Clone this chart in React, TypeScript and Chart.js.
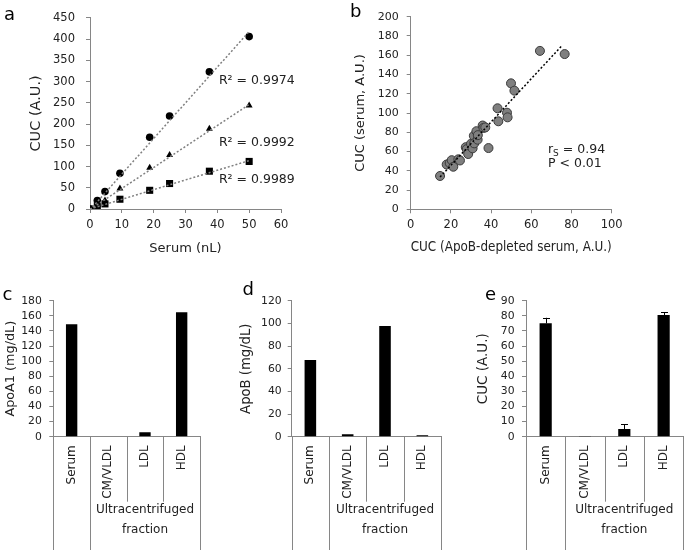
import React, { useEffect, useRef } from "react";
import { Chart, registerables } from "chart.js";
Chart.register(...registerables);

const FONT = "'DejaVu Sans', Verdana, sans-serif";
const TEXT = "#222222";
const AXIS = "#868686";

// ---------- Panel a data ----------
const serumNL = [0, 2.3, 4.7, 9.4, 18.75, 25, 37.5, 50];
const cucCircle = [0, 20, 41, 84, 169, 219, 323, 406];
const cucTriangle = [0, 10, 20, 48, 97, 127, 189, 244];
const cucSquare = [0, 7, 12, 23, 44, 60, 89, 112];
const trendX = [0, 50];
const trendCircle = [-2, 418];
const trendTriangle = [-1, 246];
const trendSquare = [0, 114];
const r2Labels = ["R² = 0.9974", "R² = 0.9992", "R² = 0.9989"];

// ---------- Panel b data ----------
const apoBDepleted = [14.6, 17.9, 19.4, 20.4, 21.2, 23.7, 24.5, 27.4, 27.9, 28.6, 30.0, 30.8, 31.4, 31.6, 32.7, 33.3, 33.4, 35.8, 36.2, 37.1, 38.7, 43.2, 43.6, 47.9, 48.2, 49.9, 51.6, 64.3, 76.6];
const serumCUC = [34.6, 46.5, 48, 51, 44.2, 51.9, 50.7, 64.5, 62.5, 57.4, 68, 63.3, 76.3, 68.5, 81.1, 72.3, 77, 87, 84.5, 85, 63.6, 104.9, 91.4, 100.3, 95.5, 130.8, 123.2, 164.5, 161.2];
const trendBX = [14.6, 75.5];
const trendBY = [33.5, 170.5];
const corrLines = ["= 0.94", "P < 0.01"];

// ---------- Panels c, d, e data ----------
const fractionLabels = ["Serum", "CM/VLDL", "LDL", "HDL"];
const groupLabelLines = ["Ultracentrifuged", "fraction"];
const apoA1 = [148.8, 0, 5.8, 164.6];
const apoB = [67.7, 2.1, 97.7, 1.2];
const cucFraction = [75.0, 0.2, 5.1, 80.5];
const cucFractionErr = [3.7, 0, 3.2, 1.8];

// ---------- plugins ----------
const letterPlugin = {
  id: "panelLetter",
  afterDraw(chart: any, _a: any, opts: any) {
    if (!opts || !opts.text) return;
    const ctx = chart.ctx;
    ctx.save();
    ctx.font = `${opts.size}px ${FONT}`;
    ctx.fillStyle = "#000";
    ctx.textAlign = "left";
    ctx.textBaseline = "alphabetic";
    ctx.fillText(opts.text, opts.x, opts.y);
    ctx.restore();
  },
};

const noteTextPlugin = {
  id: "noteText",
  afterDatasetsDraw(chart: any, _a: any, opts: any) {
    if (!opts || !opts.items) return;
    const { ctx, scales } = chart;
    ctx.save();
    ctx.fillStyle = TEXT;
    ctx.textAlign = "left";
    ctx.textBaseline = "middle";
    for (const it of opts.items) {
      const px = scales.x.getPixelForValue(it.x);
      const py = scales.y.getPixelForValue(it.y);
      ctx.font = `${opts.size}px ${FONT}`;
      if (it.sub) {
        ctx.fillText(it.pre, px, py);
        let w = ctx.measureText(it.pre).width;
        ctx.font = `${opts.size * 0.72}px ${FONT}`;
        ctx.fillText(it.sub, px + w, py + 4);
        w += ctx.measureText(it.sub).width;
        ctx.font = `${opts.size}px ${FONT}`;
        ctx.fillText(" " + it.text, px + w, py);
      } else {
        ctx.fillText(it.text, px, py);
      }
    }
    ctx.restore();
  },
};

const multiLevelPlugin = {
  id: "multiLevel",
  afterDraw(chart: any, _a: any, opts: any) {
    if (!opts || !opts.labels) return;
    const { ctx, chartArea } = chart;
    const x = chart.scales.x;
    const n = opts.labels.length;
    const catW = (chartArea.right - chartArea.left) / n;
    const y0 = chartArea.bottom;
    const bottom = chart.height;
    ctx.save();
    ctx.strokeStyle = AXIS;
    ctx.lineWidth = 1;
    for (let i = 0; i <= n; i++) {
      const bx = Math.round(chartArea.left + i * catW) + 0.5;
      const full = i === 0 || i === 1 || i === n;
      ctx.beginPath();
      ctx.moveTo(bx, y0);
      ctx.lineTo(bx, full ? bottom : y0 + opts.innerDepth);
      ctx.stroke();
    }
    ctx.fillStyle = TEXT;
    ctx.font = `${opts.size}px ${FONT}`;
    opts.labels.forEach((lab: string, i: number) => {
      const cx = x.getPixelForValue(i);
      ctx.save();
      ctx.translate(cx, y0 + 8.5);
      ctx.rotate(-Math.PI / 2);
      ctx.textAlign = "right";
      ctx.textBaseline = "middle";
      ctx.fillText(lab, 0, 0);
      ctx.restore();
    });
    const gx = (chartArea.left + catW + chartArea.right) / 2;
    ctx.textAlign = "center";
    ctx.textBaseline = "middle";
    opts.group.forEach((g: string, k: number) => {
      ctx.fillText(g, gx, y0 + 73.5 + k * 20);
    });
    ctx.restore();
  },
};

const errorBarPlugin = {
  id: "errorBars",
  afterDatasetsDraw(chart: any, _a: any, opts: any) {
    if (!opts || !opts.errors) return;
    const { ctx } = chart;
    const meta = chart.getDatasetMeta(0);
    const ys = chart.scales.y;
    ctx.save();
    ctx.strokeStyle = "#000";
    ctx.lineWidth = 1;
    meta.data.forEach((bar: any, i: number) => {
      const e = opts.errors[i];
      if (!e) return;
      const v = chart.data.datasets[0].data[i];
      const top = ys.getPixelForValue(v + e);
      const bx = Math.round(bar.x) + 0.5;
      ctx.beginPath();
      ctx.moveTo(bx, bar.y);
      ctx.lineTo(bx, top);
      ctx.moveTo(bx - 3.5, Math.round(top) + 0.5);
      ctx.lineTo(bx + 3.5, Math.round(top) + 0.5);
      ctx.stroke();
    });
    ctx.restore();
  },
};

// ---------- helpers ----------
function yAxis(opts: any) {
  return {
    min: opts.min,
    max: opts.max,
    afterFit: (s: any) => { s.width = opts.fitW; },
    grid: { drawOnChartArea: false, drawTicks: true, tickLength: 4, color: AXIS },
    border: { display: true, color: AXIS, width: 1 },
    ticks: { stepSize: opts.step, autoSkip: false, color: TEXT, padding: opts.pad, font: { family: FONT, size: opts.tickSize } },
    title: { display: true, text: opts.title, color: TEXT, font: { family: FONT, size: opts.titleSize }, padding: { top: opts.titlePad, bottom: 0 } },
  };
}

function xLinear(opts: any) {
  return {
    type: "linear",
    min: opts.min,
    max: opts.max,
    afterFit: (s: any) => { s.height = opts.fitH; },
    grid: { drawOnChartArea: false, drawTicks: true, tickLength: 4, color: AXIS },
    border: { display: true, color: AXIS, width: 1 },
    ticks: { stepSize: opts.step, autoSkip: false, color: TEXT, padding: 5, font: { family: FONT, size: opts.tickSize }, maxRotation: 0 },
    title: { display: true, text: opts.title, color: TEXT, font: { family: FONT, size: opts.titleSize }, padding: { top: 0, bottom: opts.titlePad } },
  };
}

const xy = (xs: number[], ys: number[]) => xs.map((x, i) => ({ x, y: ys[i] }));

function base(W: number, T: number, R: number) {
  return {
    responsive: false,
    animation: false,
    events: [],
    layout: { padding: { left: 0, top: T, right: W - R, bottom: 0 } },
  };
}

function configA() {
  const W = 340, H = 270, L = 90, T = 17, R = 281, B = 209;
  const marker = (style: string, r: number) => ({ showLine: false, pointStyle: style, pointRadius: r, backgroundColor: "#000", borderColor: "#000", borderWidth: 0 });
  const trend = { showLine: true, pointRadius: 0, borderColor: "#808080", borderWidth: 1.5, borderDash: [2, 2], fill: false };
  return {
    type: "scatter",
    data: {
      datasets: [
        { ...trend, data: xy(trendX, trendCircle) },
        { ...trend, data: xy(trendX, trendTriangle) },
        { ...trend, data: xy(trendX, trendSquare) },
        { ...marker("circle", 3.8), data: xy(serumNL, cucCircle) },
        { ...marker("triangle", 4), data: xy(serumNL, cucTriangle) },
        { ...marker("rect", 5), data: xy(serumNL, cucSquare) },
      ],
    },
    options: {
      ...base(W, T, R),
      scales: {
        x: xLinear({ min: 0, max: 60, step: 10, fitH: H - B, tickSize: 11.5, title: "Serum (nL)", titleSize: 13, titlePad: 14 }),
        y: yAxis({ min: 0, max: 450, step: 50, fitW: L, pad: 11, tickSize: 11.5, title: "CUC (A.U.)", titleSize: 14.5, titlePad: 28 }),
      },
      plugins: {
        legend: { display: false },
        tooltip: { enabled: false },
        panelLetter: { text: "a", x: 4, y: 20, size: 18 },
        noteText: {
          size: 12.5,
          items: [
            { text: r2Labels[0], x: 40.5, y: 302 },
            { text: r2Labels[1], x: 40.5, y: 155 },
            { text: r2Labels[2], x: 40.5, y: 68 },
          ],
        },
      },
    },
    plugins: [letterPlugin, noteTextPlugin],
  };
}

function configB() {
  const W = 345, H = 270, L = 70.7, T = 16.7, R = 271.7, B = 209.3;
  return {
    type: "scatter",
    data: {
      datasets: [
        { showLine: true, pointRadius: 0, borderColor: "#000", borderWidth: 1.5, borderDash: [2, 2], data: xy(trendBX, trendBY) },
        { showLine: false, pointStyle: "circle", pointRadius: 4.5, backgroundColor: "#7f7f7f", borderColor: "#3a3a3a", borderWidth: 1, data: xy(apoBDepleted, serumCUC) },
      ],
    },
    options: {
      ...base(W, T, R),
      scales: {
        x: xLinear({ min: 0, max: 100, step: 20, fitH: H - B, tickSize: 11.5, title: "CUC (ApoB-depleted serum, A.U.)", titleSize: 14.3, titlePad: 14 }),
        y: yAxis({ min: 0, max: 200, step: 20, fitW: L, pad: 8, tickSize: 11, title: "CUC (serum, A.U.)", titleSize: 13, titlePad: 13 }),
      },
      plugins: {
        legend: { display: false },
        tooltip: { enabled: false },
        panelLetter: { text: "b", x: 10, y: 16.7, size: 18 },
        noteText: {
          size: 12.5,
          items: [
            { pre: "r", sub: "S", text: corrLines[0], x: 68.3, y: 61.6 },
            { text: corrLines[1], x: 68.3, y: 47 },
          ],
        },
      },
    },
    plugins: [letterPlugin, noteTextPlugin],
  };
}

function configBar(p: any) {
  const W = 230, H = 270, T = 20.7, B = 156.7;
  return {
    type: "bar",
    data: {
      labels: fractionLabels,
      datasets: [{ data: p.values, backgroundColor: "#000", borderWidth: 0, barPercentage: 0.31, categoryPercentage: 1 }],
    },
    options: {
      ...base(W, T, p.R),
      scales: {
        x: {
          type: "category",
          afterFit: (s: any) => { s.height = H - B; },
          grid: { display: false },
          border: { display: true, color: AXIS, width: 1 },
          ticks: { display: false },
        },
        y: yAxis({ min: 0, max: p.max, step: p.step, fitW: p.L, pad: p.pad, tickSize: 10.8, title: p.title, titleSize: p.titleSize, titlePad: p.titlePad }),
      },
      plugins: {
        legend: { display: false },
        tooltip: { enabled: false },
        panelLetter: { text: p.letter, x: p.lx, y: p.ly, size: 18 },
        multiLevel: { labels: fractionLabels, group: groupLabelLines, innerDepth: 65, size: 12 },
        errorBars: p.errors ? { errors: p.errors } : {},
      },
    },
    plugins: [letterPlugin, multiLevelPlugin, errorBarPlugin],
  };
}

function Panel({ left, top, width, height, make }: any) {
  const ref = useRef<HTMLCanvasElement>(null);
  useEffect(() => {
    const chart = new Chart(ref.current as HTMLCanvasElement, make());
    return () => chart.destroy();
  }, []);
  return (
    <canvas
      ref={ref}
      width={width}
      height={height}
      style={{ position: "absolute", left, top, width, height }}
    />
  );
}

export default function App() {
  return (
    <div style={{ position: "absolute", left: 0, top: 0, width: 685, height: 550, background: "#fff", overflow: "hidden" }}>
      <Panel left={0} top={0} width={340} height={270} make={configA} />
      <Panel left={340} top={0} width={345} height={270} make={configB} />
      <Panel left={0} top={280} width={230} height={270}
        make={() => configBar({ values: apoA1, max: 180, step: 20, L: 53.3, R: 200, pad: 7.5, title: "ApoA1 (mg/dL)", titleSize: 12.8, titlePad: 2.5, letter: "c", lx: 2.5, ly: 20 })} />
      <Panel left={230} top={280} width={230} height={270}
        make={() => configBar({ values: apoB, max: 120, step: 20, L: 61.7, R: 211, pad: 6, title: "ApoB (mg/dL)", titleSize: 13.2, titlePad: 8.8, letter: "d", lx: 12.5, ly: 15 })} />
      <Panel left={455} top={280} width={230} height={270}
        make={() => configBar({ values: cucFraction, errors: cucFractionErr, max: 90, step: 10, L: 71, R: 228.3, pad: 7.5, title: "CUC (A.U.)", titleSize: 13.5, titlePad: 20, letter: "e", lx: 30, ly: 20 })} />
    </div>
  );
}
